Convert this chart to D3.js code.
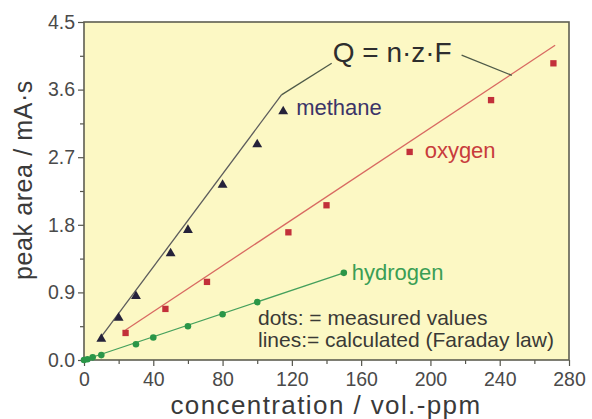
<!DOCTYPE html>
<html>
<head>
<meta charset="utf-8">
<script src="https://cdn.jsdelivr.net/npm/d3@7"></script>
<style>
  body { margin: 0; background: #ffffff; }
  svg { display: block; }
  text { font-family: "Liberation Sans", Arial, sans-serif; }
</style>
</head>
<body>
<svg id="chart" width="592" height="419"></svg>
<script>
// Measured peak areas (mA·s) against concentration (vol.-ppm)
const methaneConc = [10, 20, 30, 50, 60, 80, 100, 115];
const methaneArea = [0.28, 0.56, 0.85, 1.42, 1.73, 2.33, 2.87, 3.31];
const oxygenConc = [24, 47, 71, 118, 140, 188, 235, 271];
const oxygenArea = [0.36, 0.68, 1.04, 1.70, 2.06, 2.77, 3.46, 3.95];
const hydrogenConc = [0, 2, 5, 10, 30, 40, 60, 80, 100, 150];
const hydrogenArea = [0, 0.01, 0.035, 0.065, 0.21, 0.30, 0.45, 0.61, 0.77, 1.16];

// Calculated (Faraday law) lines, start and end points
const methaneCalcConc = [10, 114];
const methaneCalcArea = [0.31, 3.53];
const oxygenCalcConc = [24, 272];
const oxygenCalcArea = [0.40, 4.19];
const hydrogenCalcConc = [0, 150];
const hydrogenCalcArea = [0, 1.16];

// Leader lines from the formula to the methane and oxygen lines
const leaderLeftConc = [114, 143];
const leaderLeftArea = [3.53, 3.95];
const leaderRightConc = [218, 247];
const leaderRightArea = [4.06, 3.79];

// Axis ticks
const xTicks = [0, 40, 80, 120, 160, 200, 240, 280];
const xMinorTicks = [20, 60, 100, 140, 180, 220, 260];
const yTicks = [0, 0.9, 1.8, 2.7, 3.6, 4.5];
const yMinorTicks = [0.45, 1.35, 2.25, 3.15, 4.05];

const svg = d3.select("#chart");
const plotLeft = 84, plotRight = 569, plotTop = 22, plotBottom = 360;

const x = d3.scaleLinear().domain([0, 280]).range([plotLeft, plotRight]);
const y = d3.scaleLinear().domain([0, 4.5]).range([plotBottom, plotTop]);

// Plot background
svg.append("rect")
  .attr("x", plotLeft).attr("y", plotTop)
  .attr("width", plotRight - plotLeft).attr("height", plotBottom - plotTop)
  .attr("fill", "#fcf8c4");

// Axes
const tickColor = "#55554c";
const labelColor = "#4a4a4a";

svg.append("g").attr("transform", `translate(0,${plotBottom})`)
  .call(d3.axisBottom(x).tickValues(xTicks).tickSize(6).tickPadding(6).tickFormat(d3.format("d")));
svg.append("g").attr("transform", `translate(0,${plotBottom})`)
  .call(d3.axisBottom(x).tickValues(xMinorTicks).tickSize(4).tickFormat(""));

svg.append("g").attr("transform", `translate(${plotLeft},0)`)
  .call(d3.axisLeft(y).tickValues(yTicks).tickSize(6).tickPadding(3).tickFormat(d3.format(".1f")));
svg.append("g").attr("transform", `translate(${plotLeft},0)`)
  .call(d3.axisLeft(y).tickValues(yMinorTicks).tickSize(4).tickFormat(""));

svg.selectAll(".domain").remove();
svg.selectAll(".tick line").attr("stroke", tickColor).attr("stroke-width", 1.2);
svg.selectAll(".tick text")
  .attr("fill", labelColor)
  .style("font-size", "19.5px")
  .style("font-family", "'Liberation Sans', Arial, sans-serif");

// Frame around the plot
svg.append("rect")
  .attr("x", plotLeft).attr("y", plotTop)
  .attr("width", plotRight - plotLeft).attr("height", plotBottom - plotTop)
  .attr("fill", "none")
  .attr("stroke", "#5e5e52")
  .attr("stroke-width", 1.6);

// Axis titles
svg.append("text")
  .attr("x", 326).attr("y", 414)
  .attr("text-anchor", "middle")
  .attr("fill", "#3a3a3a")
  .style("font-size", "26px")
  .style("letter-spacing", "1.4px")
  .text("concentration / vol.-ppm");

svg.append("text")
  .attr("transform", "translate(32,180) rotate(-90)")
  .attr("text-anchor", "middle")
  .attr("fill", "#3a3a3a")
  .style("font-size", "25px")
  .style("letter-spacing", "0.6px")
  .text("peak area / mA·s");

// Calculated lines
const line = d3.line().x(d => x(d[0])).y(d => y(d[1]));
const pairs = (cs, vs) => cs.map((c, i) => [c, vs[i]]);

svg.append("path").datum(pairs(methaneCalcConc, methaneCalcArea))
  .attr("d", line).attr("fill", "none").attr("stroke", "#5c5c5c").attr("stroke-width", 1.3);
svg.append("path").datum(pairs(oxygenCalcConc, oxygenCalcArea))
  .attr("d", line).attr("fill", "none").attr("stroke", "#d86a62").attr("stroke-width", 1.3);
svg.append("path").datum(pairs(hydrogenCalcConc, hydrogenCalcArea))
  .attr("d", line).attr("fill", "none").attr("stroke", "#45a05c").attr("stroke-width", 1.3);

// Formula leader lines
svg.append("path").datum(pairs(leaderLeftConc, leaderLeftArea))
  .attr("d", line).attr("fill", "none").attr("stroke", "#4e5a48").attr("stroke-width", 1.3);
svg.append("path").datum(pairs(leaderRightConc, leaderRightArea))
  .attr("d", line).attr("fill", "none").attr("stroke", "#4e5a48").attr("stroke-width", 1.3);

// Measured points
const sym = (type, size) => d3.symbol().type(type).size(size);

svg.append("g").selectAll("path")
  .data(pairs(methaneConc, methaneArea))
  .join("path")
  .attr("transform", d => `translate(${x(d[0])},${y(d[1])})`)
  .attr("d", sym(d3.symbolTriangle, 42))
  .attr("fill", "#25223a");

svg.append("g").selectAll("path")
  .data(pairs(oxygenConc, oxygenArea))
  .join("path")
  .attr("transform", d => `translate(${x(d[0])},${y(d[1])})`)
  .attr("d", sym(d3.symbolSquare, 40))
  .attr("fill", "#c2303a");

svg.append("g").selectAll("path")
  .data(pairs(hydrogenConc, hydrogenArea))
  .join("path")
  .attr("transform", d => `translate(${x(d[0])},${y(d[1])})`)
  .attr("d", sym(d3.symbolCircle, 34))
  .attr("fill", "#2a9648");

// Series labels beside their points
const lastM = methaneConc.length - 1;
svg.append("text")
  .attr("x", x(methaneConc[lastM]) + 13).attr("y", y(methaneArea[lastM]) + 4)
  .attr("fill", "#3b3468").style("font-size", "22px").text("methane");

svg.append("text")
  .attr("x", x(oxygenConc[5]) + 15).attr("y", y(oxygenArea[5]) + 6)
  .attr("fill", "#c83c3c").style("font-size", "22px").text("oxygen");

const lastH = hydrogenConc.length - 1;
svg.append("text")
  .attr("x", x(hydrogenConc[lastH]) + 8).attr("y", y(hydrogenArea[lastH]) + 7)
  .attr("fill", "#3a9e55").style("font-size", "22px").text("hydrogen");

// Faraday formula
svg.append("text")
  .attr("x", x(leaderLeftConc[1]) + 1).attr("y", y(leaderLeftArea[1]) - 1)
  .attr("fill", "#2e2e2e").style("font-size", "28px").text("Q = n·z·F");

// Legend notes
svg.append("text")
  .attr("x", 258).attr("y", 325)
  .attr("fill", "#3a3a36").style("font-size", "21px").text("dots: = measured values");
svg.append("text")
  .attr("x", 258).attr("y", 347)
  .attr("fill", "#3a3a36").style("font-size", "21px").text("lines:= calculated (Faraday law)");
</script>
</body>
</html>
